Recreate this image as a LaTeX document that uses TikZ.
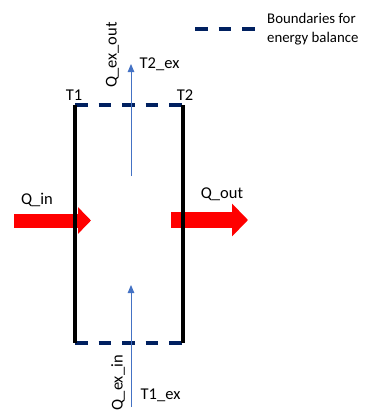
\documentclass[tikz,border=0pt]{standalone}
\usepackage{fontspec}
\setmainfont{Carlito}
\usetikzlibrary{arrows.meta,positioning}
\definecolor{boundnavy}{HTML}{002060}
\definecolor{exblue}{HTML}{4472C4}

\begin{document}
\begin{tikzpicture}[
    x=1pt,y=-1pt,
    lbl/.style={inner sep=0pt,font=\fontsize{16.5}{19}\selectfont},
    wall/.style={line width=4pt,black},
    boundary/.style={line width=3.2pt,boundnavy,dash pattern=on 12.5pt off 11pt},
    heatflow/.style={red,-{Triangle[length=#1,width=2*#1]}},
    exflow/.style={exblue,line width=0.9pt,-{Triangle[length=8pt,width=6.5pt]}}
  ]
    \useasboundingbox (0,0) rectangle (364,412);
    \clip (0,0) rectangle (364,412);
    % corners of the control volume
    \coordinate (TL) at (75,105);
    \coordinate (TR) at (183,105);
    \coordinate (BL) at (75,343);
    \coordinate (BR) at (183,343);
    % heat in / out
    \coordinate (qin-s) at (14,220.5);
    \coordinate (qin-e) at (91,220.5);
    \coordinate (qout-s) at (171,220);
    \coordinate (qout-e) at (248,220);
    \draw[heatflow=13pt,line width=14pt] (qin-s) -- (qin-e);
    \draw[heatflow=16pt,line width=16pt] (qout-s) -- (qout-e);
    \node[lbl] (Qin) at (37,200) {Q\_in};
    \node[lbl] (Qout) at (222,194) {Q\_out};
    % boundaries
    \draw[boundary] (TL) -- (TR);
    \draw[boundary] (BL) -- (BR);
    \draw[wall] (TL) -- (BL);
    \draw[wall] (TR) -- (BR);
    \node[lbl,above=4pt of TL,xshift=-1pt] (T1) {T1};
    \node[lbl,above=4pt of TR,xshift=2pt] (T2) {T2};
    % exchanger flow
    \coordinate (exin-s) at (131,407);
    \coordinate (exin-e) at (131,285);
    \coordinate (exout-s) at (131,176);
    \coordinate (exout-e) at (131,64);
    \draw[exflow] (exin-s) -- (exin-e);
    \draw[exflow] (exout-s) -- (exout-e);
    \node[lbl,rotate=90] (Qexout) at (112.5,55) {Q\_ex\_out};
    \node[lbl,rotate=90,anchor=east] (Qexin) at (118,355) {Q\_ex\_in};
    \node[lbl,anchor=west] (T2ex) at (139.5,64) {T2\_ex};
    \node[lbl,anchor=west] (T1ex) at (140.5,395) {T1\_ex};
    % legend
    \coordinate (leg-s) at (195,29);
    \coordinate (leg-e) at (255,29);
    \draw[boundary] (leg-s) -- (leg-e);
    \node[lbl,anchor=west,align=left,font=\fontsize{14.8}{19}\selectfont] (legtxt) at (267,29) {Boundaries for\\energy balance};
\end{tikzpicture}
\end{document}
